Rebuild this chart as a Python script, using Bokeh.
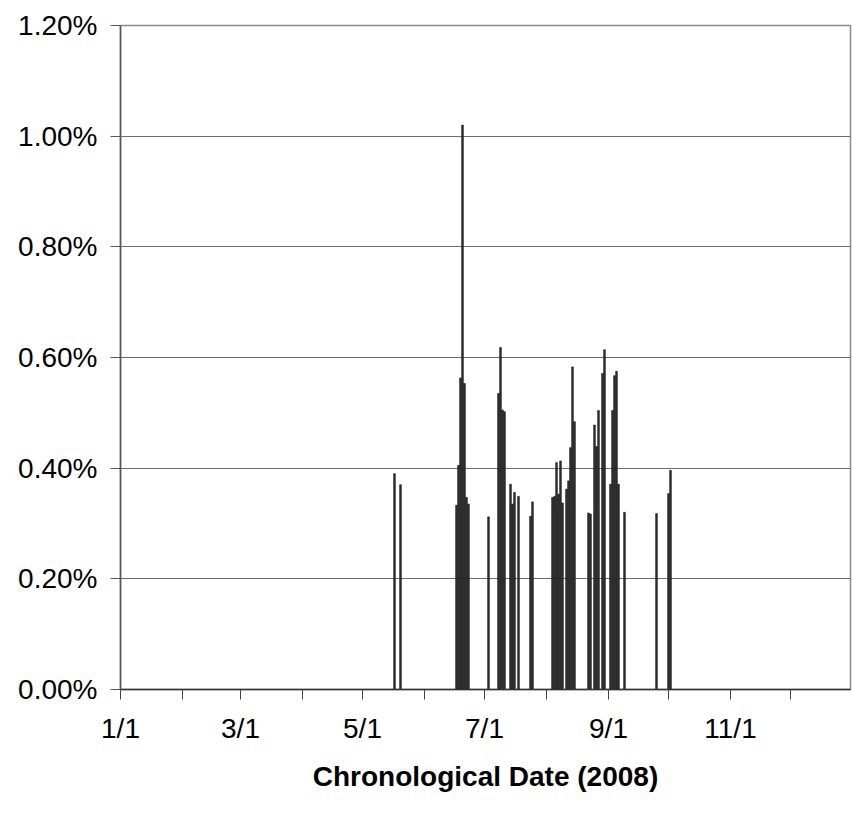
import pandas as pd
from bokeh.plotting import figure
from bokeh.models import FixedTicker, NumeralTickFormatter, Range1d, ColumnDataSource
from bokeh.embed import file_html
from bokeh.resources import INLINE

# ---- data ----
year_start = "2008-01-01"
year_end = "2008-12-31"

dates = [
    "2008-05-17", "2008-05-20",
    "2008-06-17", "2008-06-18", "2008-06-19", "2008-06-20", "2008-06-21", "2008-06-22", "2008-06-23",
    "2008-07-03",
    "2008-07-08", "2008-07-09", "2008-07-10", "2008-07-11",
    "2008-07-14", "2008-07-15", "2008-07-16", "2008-07-18",
    "2008-07-24", "2008-07-25",
    "2008-08-04", "2008-08-05", "2008-08-06", "2008-08-07", "2008-08-08", "2008-08-09",
    "2008-08-11", "2008-08-12", "2008-08-13", "2008-08-14", "2008-08-15",
    "2008-08-22", "2008-08-23",
    "2008-08-25", "2008-08-26", "2008-08-27",
    "2008-08-29", "2008-08-30",
    "2008-09-02", "2008-09-03", "2008-09-04", "2008-09-05", "2008-09-06",
    "2008-09-09",
    "2008-09-25",
    "2008-10-01", "2008-10-02",
]
values_pct = [
    0.390, 0.370,
    0.333, 0.405, 0.563, 1.020, 0.553, 0.347, 0.335,
    0.312,
    0.535, 0.618, 0.505, 0.502,
    0.371, 0.335, 0.356, 0.349,
    0.313, 0.339,
    0.347, 0.349, 0.410, 0.353, 0.413, 0.337,
    0.362, 0.377, 0.437, 0.583, 0.484,
    0.319, 0.317,
    0.478, 0.439, 0.504,
    0.571, 0.614,
    0.371, 0.504, 0.567, 0.575, 0.371,
    0.320,
    0.318,
    0.354, 0.396,
]

month_starts = ["2008-01-01", "2008-02-01", "2008-03-01", "2008-04-01", "2008-05-01", "2008-06-01",
                "2008-07-01", "2008-08-01", "2008-09-01", "2008-10-01", "2008-11-01", "2008-12-01"]
labeled_months = ["2008-01-01", "2008-03-01", "2008-05-01", "2008-07-01", "2008-09-01", "2008-11-01"]
month_labels = ["1/1", "3/1", "5/1", "7/1", "9/1", "11/1"]

y_ticks_pct = [0.0, 0.2, 0.4, 0.6, 0.8, 1.0, 1.2]

# ---- helpers ----
t0 = pd.Timestamp(year_start)
def day_index(ds):
    return [int((pd.Timestamp(d) - t0).days) for d in ds]

x_days = day_index(dates)
y_frac = [v / 100.0 for v in values_pct]
major = day_index(labeled_months)
minor = [d for d in day_index(month_starts) if d not in major]
x_max = day_index([year_end])[0]

src = ColumnDataSource(dict(x=x_days, y=y_frac))

FONT = "Liberation Sans"
FS = "28px"

p = figure(width=852, height=815, output_backend="svg", toolbar_location=None,
           x_range=Range1d(0, x_max), y_range=Range1d(0, y_ticks_pct[-1] / 100.0),
           min_border_left=120, min_border_right=2, min_border_top=25, min_border_bottom=126)
p.background_fill_color = "white"
p.border_fill_color = "white"
p.outline_line_color = "#8a8a8a"
p.outline_line_width = 1.5

p.vbar(x="x", top="y", bottom=0, width=0.85, source=src,
       fill_color="#333333", line_color="#111111", line_width=0.6)

# y axis
p.yaxis.ticker = FixedTicker(ticks=[t / 100.0 for t in y_ticks_pct])
p.yaxis.formatter = NumeralTickFormatter(format="0.00%")
p.yaxis.major_label_text_font = FONT
p.yaxis.major_label_text_font_size = FS
p.yaxis.major_label_text_color = "black"
p.yaxis.major_label_standoff = 13
p.yaxis.major_tick_out = 10
p.yaxis.major_tick_in = 0
p.yaxis.minor_tick_line_color = None
p.yaxis.axis_line_color = "#555555"
p.yaxis.axis_line_width = 1.5
p.yaxis.major_tick_line_color = "#555555"

# x axis
p.xaxis.ticker = FixedTicker(ticks=major, minor_ticks=minor)
p.xaxis.major_label_overrides = {d: lab for d, lab in zip(major, month_labels)}
p.xaxis.major_label_text_font = FONT
p.xaxis.major_label_text_font_size = FS
p.xaxis.major_label_text_color = "black"
p.xaxis.major_label_standoff = 13
p.xaxis.major_tick_out = 10
p.xaxis.major_tick_in = 0
p.xaxis.minor_tick_out = 10
p.xaxis.minor_tick_in = 0
p.xaxis.major_tick_line_color = "#444444"
p.xaxis.minor_tick_line_color = "#444444"
p.xaxis.axis_line_color = "#333333"
p.xaxis.axis_line_width = 1.5
p.xaxis.axis_label = "Chronological Date (2008)"
p.xaxis.axis_label_text_font = FONT
p.xaxis.axis_label_text_font_style = "bold"
p.xaxis.axis_label_text_font_size = FS
p.xaxis.axis_label_text_color = "black"
p.xaxis.axis_label_standoff = 14

p.xgrid.grid_line_color = None
p.ygrid.grid_line_color = "#6e6e6e"
p.ygrid.grid_line_width = 1

open("out.html", "w").write(file_html(p, INLINE))
